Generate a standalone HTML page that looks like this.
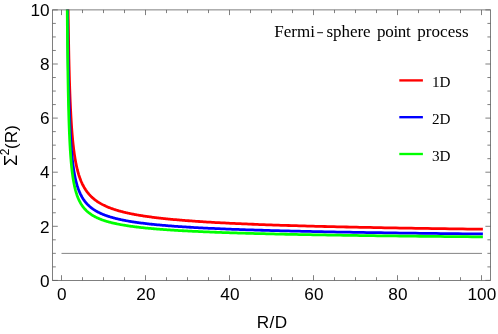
<!DOCTYPE html>
<html><head><meta charset="utf-8"><title>Fermi-sphere point process</title>
<style>html,body{margin:0;padding:0;background:#fff}svg{display:block;will-change:transform}</style>
</head><body>
<svg width="498" height="334" viewBox="0 0 498 334">
<rect width="498" height="334" fill="#fff"/>
<defs><clipPath id="c"><rect x="52.60" y="9.40" width="438.00" height="271.00"/></clipPath></defs>
<line x1="61.50" y1="253.40" x2="482.00" y2="253.40" stroke="#777" stroke-width="0.9"/>
<g clip-path="url(#c)" fill="none" stroke-width="2.77" stroke-linejoin="round" stroke-linecap="square">
<path d="M67.30,-91.56 L67.36,-79.78 L67.43,-68.78 L67.50,-58.49 L67.57,-48.83 L67.64,-39.75 L67.71,-31.20 L67.78,-23.13 L67.85,-15.51 L67.92,-8.30 L68.00,-1.47 L68.07,5.02 L68.15,11.18 L68.22,17.05 L68.30,22.64 L68.38,27.97 L68.46,33.06 L68.54,37.92 L68.62,42.58 L68.70,47.04 L68.78,51.31 L68.86,55.41 L68.95,59.34 L69.03,63.13 L69.12,66.77 L69.21,70.27 L69.29,73.64 L69.38,76.89 L69.47,80.03 L69.57,83.05 L69.66,85.97 L69.75,88.80 L69.85,91.53 L69.94,94.17 L70.04,96.72 L70.14,99.20 L70.23,101.60 L70.34,103.92 L70.44,106.18 L70.54,108.36 L70.64,110.49 L70.75,112.55 L70.85,114.55 L70.96,116.50 L71.07,118.39 L71.18,120.23 L71.29,122.03 L71.40,123.77 L71.51,125.47 L71.63,127.12 L71.75,128.74 L71.86,130.31 L71.98,131.84 L72.10,133.33 L72.22,134.79 L72.35,136.22 L72.47,137.61 L72.60,138.96 L72.72,140.29 L72.85,141.58 L72.98,142.85 L73.11,144.09 L73.25,145.30 L73.38,146.48 L73.52,147.64 L73.65,148.77 L73.79,149.88 L73.93,150.97 L74.08,152.03 L74.22,153.07 L74.37,154.09 L74.51,155.09 L74.66,156.07 L74.81,157.03 L74.97,157.98 L75.12,158.90 L75.28,159.80 L75.43,160.69 L75.59,161.56 L75.76,162.42 L75.92,163.26 L76.08,164.08 L76.25,164.89 L76.42,165.69 L76.59,166.47 L76.76,167.24 L76.94,167.99 L77.12,168.73 L77.29,169.46 L77.48,170.17 L77.66,170.88 L77.84,171.57 L78.03,172.25 L78.22,172.92 L78.41,173.57 L78.61,174.22 L78.80,174.86 L79.00,175.48 L79.20,176.10 L79.40,176.71 L79.61,177.31 L79.82,177.89 L80.03,178.47 L80.24,179.04 L80.45,179.60 L80.67,180.16 L80.89,180.70 L81.11,181.24 L81.34,181.77 L81.56,182.29 L81.79,182.80 L82.03,183.31 L82.26,183.81 L82.50,184.30 L82.74,184.79 L82.98,185.27 L83.23,185.74 L83.48,186.20 L83.73,186.66 L83.98,187.12 L84.24,187.56 L84.50,188.00 L84.77,188.44 L85.03,188.87 L85.30,189.29 L85.57,189.71 L85.85,190.12 L86.13,190.53 L86.41,190.93 L86.70,191.33 L86.98,191.72 L87.28,192.11 L87.57,192.49 L87.87,192.86 L88.17,193.24 L88.48,193.61 L88.79,193.97 L89.10,194.33 L89.42,194.68 L89.74,195.03 L90.06,195.38 L90.39,195.72 L90.72,196.06 L91.05,196.40 L91.39,196.73 L91.73,197.05 L92.08,197.38 L92.43,197.70 L92.78,198.01 L93.14,198.32 L93.51,198.63 L93.87,198.94 L94.24,199.24 L94.62,199.54 L95.00,199.83 L95.38,200.13 L95.77,200.41 L96.16,200.70 L96.56,200.98 L96.96,201.26 L97.37,201.54 L97.78,201.81 L98.19,202.08 L98.61,202.35 L99.04,202.62 L99.47,202.88 L99.90,203.14 L100.34,203.40 L100.79,203.65 L101.24,203.90 L101.69,204.15 L102.15,204.40 L102.62,204.64 L103.09,204.88 L103.57,205.12 L104.05,205.36 L104.54,205.60 L105.03,205.83 L105.53,206.06 L106.03,206.29 L106.54,206.51 L107.06,206.74 L107.58,206.96 L108.11,207.18 L108.64,207.40 L109.18,207.61 L109.73,207.83 L110.28,208.04 L110.84,208.25 L111.41,208.45 L111.98,208.66 L112.56,208.86 L113.14,209.07 L113.73,209.27 L114.33,209.46 L114.94,209.66 L115.55,209.85 L116.17,210.05 L116.79,210.24 L117.43,210.43 L118.07,210.62 L118.72,210.80 L119.37,210.99 L120.03,211.17 L120.71,211.35 L121.38,211.53 L122.07,211.71 L122.76,211.89 L123.47,212.06 L124.18,212.24 L124.89,212.41 L125.62,212.58 L126.35,212.75 L127.10,212.92 L127.85,213.09 L128.61,213.25 L129.38,213.42 L130.15,213.58 L130.94,213.74 L131.74,213.90 L132.54,214.06 L133.36,214.22 L134.18,214.37 L135.01,214.53 L135.85,214.68 L136.71,214.83 L137.57,214.99 L138.44,215.14 L139.32,215.29 L140.21,215.43 L141.11,215.58 L142.02,215.73 L142.95,215.87 L143.88,216.01 L144.82,216.16 L145.78,216.30 L146.74,216.44 L147.72,216.58 L148.71,216.72 L149.71,216.85 L150.72,216.99 L151.74,217.12 L152.77,217.26 L153.82,217.39 L154.88,217.52 L155.95,217.65 L157.03,217.78 L158.12,217.91 L159.23,218.04 L160.35,218.17 L161.48,218.29 L162.63,218.42 L163.79,218.55 L164.96,218.67 L166.14,218.79 L167.34,218.91 L168.55,219.03 L169.78,219.16 L171.02,219.27 L172.28,219.39 L173.55,219.51 L174.83,219.63 L176.13,219.74 L177.44,219.86 L178.77,219.97 L180.11,220.09 L181.47,220.20 L182.85,220.31 L184.24,220.42 L185.64,220.54 L187.06,220.65 L188.50,220.75 L189.96,220.86 L191.43,220.97 L192.92,221.08 L194.42,221.18 L195.95,221.29 L197.49,221.40 L199.04,221.50 L200.62,221.60 L202.21,221.71 L203.83,221.81 L205.46,221.91 L207.10,222.01 L208.77,222.11 L210.46,222.21 L212.17,222.31 L213.89,222.41 L215.64,222.51 L217.40,222.60 L219.19,222.70 L221.00,222.80 L222.82,222.89 L224.67,222.99 L226.54,223.08 L228.43,223.17 L230.34,223.27 L232.28,223.36 L234.24,223.45 L236.21,223.54 L238.22,223.63 L240.24,223.72 L242.29,223.81 L244.36,223.90 L246.45,223.99 L248.57,224.08 L250.72,224.17 L252.88,224.25 L255.08,224.34 L257.29,224.43 L259.54,224.51 L261.81,224.60 L264.10,224.68 L266.42,224.77 L268.77,224.85 L271.14,224.93 L273.54,225.02 L275.97,225.10 L278.43,225.18 L280.92,225.26 L283.43,225.34 L285.97,225.42 L288.54,225.50 L291.14,225.58 L293.78,225.66 L296.44,225.74 L299.13,225.81 L301.85,225.89 L304.60,225.97 L307.39,226.05 L310.21,226.12 L313.06,226.20 L315.94,226.27 L318.85,226.35 L321.80,226.42 L324.78,226.50 L327.80,226.57 L330.85,226.64 L333.93,226.72 L337.06,226.79 L340.21,226.86 L343.41,226.93 L346.63,227.00 L349.90,227.08 L353.21,227.15 L356.55,227.22 L359.93,227.29 L363.35,227.36 L366.80,227.42 L370.30,227.49 L373.84,227.56 L377.42,227.63 L381.04,227.70 L384.70,227.76 L388.40,227.83 L392.14,227.90 L395.93,227.96 L399.76,228.03 L403.64,228.10 L407.56,228.16 L411.52,228.23 L415.53,228.29 L419.59,228.35 L423.69,228.42 L427.84,228.48 L432.04,228.55 L436.28,228.61 L440.58,228.67 L444.92,228.73 L449.31,228.80 L453.75,228.86 L458.25,228.92 L462.79,228.98 L467.39,229.04 L472.04,229.10 L476.74,229.16 L481.50,229.22" stroke="#f00"/>
<path d="M66.98,-83.22 L67.04,-69.36 L67.10,-56.60 L67.17,-44.81 L67.23,-33.88 L67.30,-23.72 L67.36,-14.26 L67.43,-5.42 L67.50,2.85 L67.57,10.61 L67.64,17.90 L67.71,24.77 L67.78,31.25 L67.85,37.37 L67.92,43.16 L68.00,48.65 L68.07,53.86 L68.15,58.82 L68.22,63.53 L68.30,68.02 L68.38,72.30 L68.46,76.39 L68.54,80.30 L68.62,84.03 L68.70,87.62 L68.78,91.05 L68.86,94.34 L68.95,97.50 L69.03,100.54 L69.12,103.46 L69.21,106.28 L69.29,108.99 L69.38,111.60 L69.47,114.12 L69.57,116.55 L69.66,118.89 L69.75,121.16 L69.85,123.36 L69.94,125.48 L70.04,127.53 L70.14,129.52 L70.23,131.44 L70.34,133.31 L70.44,135.12 L70.54,136.88 L70.64,138.59 L70.75,140.24 L70.85,141.85 L70.96,143.42 L71.07,144.94 L71.18,146.42 L71.29,147.86 L71.40,149.26 L71.51,150.62 L71.63,151.95 L71.75,153.25 L71.86,154.51 L71.98,155.74 L72.10,156.94 L72.22,158.11 L72.35,159.26 L72.47,160.37 L72.60,161.46 L72.72,162.53 L72.85,163.57 L72.98,164.58 L73.11,165.58 L73.25,166.55 L73.38,167.50 L73.52,168.43 L73.65,169.34 L73.79,170.23 L73.93,171.11 L74.08,171.96 L74.22,172.80 L74.37,173.62 L74.51,174.42 L74.66,175.21 L74.81,175.98 L74.97,176.73 L75.12,177.48 L75.28,178.20 L75.43,178.92 L75.59,179.62 L75.76,180.31 L75.92,180.98 L76.08,181.64 L76.25,182.29 L76.42,182.93 L76.59,183.56 L76.76,184.17 L76.94,184.78 L77.12,185.37 L77.29,185.96 L77.48,186.53 L77.66,187.10 L77.84,187.65 L78.03,188.20 L78.22,188.74 L78.41,189.27 L78.61,189.79 L78.80,190.30 L79.00,190.80 L79.20,191.30 L79.40,191.78 L79.61,192.26 L79.82,192.74 L80.03,193.20 L80.24,193.66 L80.45,194.11 L80.67,194.55 L80.89,194.99 L81.11,195.42 L81.34,195.85 L81.56,196.27 L81.79,196.68 L82.03,197.09 L82.26,197.49 L82.50,197.88 L82.74,198.27 L82.98,198.66 L83.23,199.04 L83.48,199.41 L83.73,199.78 L83.98,200.14 L84.24,200.50 L84.50,200.86 L84.77,201.21 L85.03,201.55 L85.30,201.89 L85.57,202.23 L85.85,202.56 L86.13,202.88 L86.41,203.21 L86.70,203.53 L86.98,203.84 L87.28,204.15 L87.57,204.46 L87.87,204.76 L88.17,205.06 L88.48,205.36 L88.79,205.65 L89.10,205.94 L89.42,206.22 L89.74,206.50 L90.06,206.78 L90.39,207.06 L90.72,207.33 L91.05,207.60 L91.39,207.86 L91.73,208.13 L92.08,208.39 L92.43,208.64 L92.78,208.90 L93.14,209.15 L93.51,209.39 L93.87,209.64 L94.24,209.88 L94.62,210.12 L95.00,210.36 L95.38,210.59 L95.77,210.83 L96.16,211.06 L96.56,211.28 L96.96,211.51 L97.37,211.73 L97.78,211.95 L98.19,212.17 L98.61,212.38 L99.04,212.60 L99.47,212.81 L99.90,213.01 L100.34,213.22 L100.79,213.43 L101.24,213.63 L101.69,213.83 L102.15,214.03 L102.62,214.22 L103.09,214.42 L103.57,214.61 L104.05,214.80 L104.54,214.99 L105.03,215.18 L105.53,215.36 L106.03,215.54 L106.54,215.73 L107.06,215.91 L107.58,216.08 L108.11,216.26 L108.64,216.43 L109.18,216.61 L109.73,216.78 L110.28,216.95 L110.84,217.12 L111.41,217.28 L111.98,217.45 L112.56,217.61 L113.14,217.78 L113.73,217.94 L114.33,218.10 L114.94,218.25 L115.55,218.41 L116.17,218.56 L116.79,218.72 L117.43,218.87 L118.07,219.02 L118.72,219.17 L119.37,219.32 L120.03,219.47 L120.71,219.61 L121.38,219.76 L122.07,219.90 L122.76,220.04 L123.47,220.18 L124.18,220.32 L124.89,220.46 L125.62,220.60 L126.35,220.74 L127.10,220.87 L127.85,221.01 L128.61,221.14 L129.38,221.27 L130.15,221.40 L130.94,221.53 L131.74,221.66 L132.54,221.79 L133.36,221.91 L134.18,222.04 L135.01,222.16 L135.85,222.29 L136.71,222.41 L137.57,222.53 L138.44,222.65 L139.32,222.77 L140.21,222.89 L141.11,223.01 L142.02,223.13 L142.95,223.24 L143.88,223.36 L144.82,223.47 L145.78,223.59 L146.74,223.70 L147.72,223.81 L148.71,223.92 L149.71,224.03 L150.72,224.14 L151.74,224.25 L152.77,224.36 L153.82,224.46 L154.88,224.57 L155.95,224.67 L157.03,224.78 L158.12,224.88 L159.23,224.99 L160.35,225.09 L161.48,225.19 L162.63,225.29 L163.79,225.39 L164.96,225.49 L166.14,225.59 L167.34,225.69 L168.55,225.78 L169.78,225.88 L171.02,225.98 L172.28,226.07 L173.55,226.17 L174.83,226.26 L176.13,226.35 L177.44,226.45 L178.77,226.54 L180.11,226.63 L181.47,226.72 L182.85,226.81 L184.24,226.90 L185.64,226.99 L187.06,227.08 L188.50,227.17 L189.96,227.25 L191.43,227.34 L192.92,227.43 L194.42,227.51 L195.95,227.60 L197.49,227.68 L199.04,227.76 L200.62,227.85 L202.21,227.93 L203.83,228.01 L205.46,228.09 L207.10,228.18 L208.77,228.26 L210.46,228.34 L212.17,228.42 L213.89,228.49 L215.64,228.57 L217.40,228.65 L219.19,228.73 L221.00,228.81 L222.82,228.88 L224.67,228.96 L226.54,229.03 L228.43,229.11 L230.34,229.18 L232.28,229.26 L234.24,229.33 L236.21,229.41 L238.22,229.48 L240.24,229.55 L242.29,229.62 L244.36,229.70 L246.45,229.77 L248.57,229.84 L250.72,229.91 L252.88,229.98 L255.08,230.05 L257.29,230.12 L259.54,230.18 L261.81,230.25 L264.10,230.32 L266.42,230.39 L268.77,230.46 L271.14,230.52 L273.54,230.59 L275.97,230.65 L278.43,230.72 L280.92,230.78 L283.43,230.85 L285.97,230.91 L288.54,230.98 L291.14,231.04 L293.78,231.11 L296.44,231.17 L299.13,231.23 L301.85,231.29 L304.60,231.35 L307.39,231.42 L310.21,231.48 L313.06,231.54 L315.94,231.60 L318.85,231.66 L321.80,231.72 L324.78,231.78 L327.80,231.84 L330.85,231.90 L333.93,231.96 L337.06,232.01 L340.21,232.07 L343.41,232.13 L346.63,232.19 L349.90,232.24 L353.21,232.30 L356.55,232.36 L359.93,232.41 L363.35,232.47 L366.80,232.52 L370.30,232.58 L373.84,232.63 L377.42,232.69 L381.04,232.74 L384.70,232.80 L388.40,232.85 L392.14,232.90 L395.93,232.96 L399.76,233.01 L403.64,233.06 L407.56,233.12 L411.52,233.17 L415.53,233.22 L419.59,233.27 L423.69,233.32 L427.84,233.37 L432.04,233.42 L436.28,233.47 L440.58,233.53 L444.92,233.58 L449.31,233.62 L453.75,233.67 L458.25,233.72 L462.79,233.77 L467.39,233.82 L472.04,233.87 L476.74,233.92 L481.50,233.97" stroke="#00f"/>
<path d="M66.73,-92.70 L66.79,-75.64 L66.85,-60.18 L66.91,-46.11 L66.98,-33.25 L67.04,-21.44 L67.10,-10.58 L67.17,-0.53 L67.23,8.77 L67.30,17.42 L67.36,25.48 L67.43,33.00 L67.50,40.04 L67.57,46.65 L67.64,52.86 L67.71,58.71 L67.78,64.23 L67.85,69.44 L67.92,74.37 L68.00,79.05 L68.07,83.48 L68.15,87.70 L68.22,91.71 L68.30,95.54 L68.38,99.18 L68.46,102.66 L68.54,105.99 L68.62,109.18 L68.70,112.22 L68.78,115.15 L68.86,117.95 L68.95,120.64 L69.03,123.23 L69.12,125.72 L69.21,128.12 L69.29,130.42 L69.38,132.65 L69.47,134.79 L69.57,136.86 L69.66,138.86 L69.75,140.79 L69.85,142.66 L69.94,144.46 L70.04,146.21 L70.14,147.91 L70.23,149.55 L70.34,151.14 L70.44,152.68 L70.54,154.17 L70.64,155.63 L70.75,157.04 L70.85,158.41 L70.96,159.74 L71.07,161.03 L71.18,162.29 L71.29,163.52 L71.40,164.71 L71.51,165.87 L71.63,167.01 L71.75,168.11 L71.86,169.18 L71.98,170.23 L72.10,171.26 L72.22,172.25 L72.35,173.23 L72.47,174.18 L72.60,175.11 L72.72,176.01 L72.85,176.90 L72.98,177.77 L73.11,178.61 L73.25,179.44 L73.38,180.25 L73.52,181.04 L73.65,181.82 L73.79,182.58 L73.93,183.32 L74.08,184.05 L74.22,184.76 L74.37,185.46 L74.51,186.14 L74.66,186.81 L74.81,187.47 L74.97,188.11 L75.12,188.74 L75.28,189.36 L75.43,189.97 L75.59,190.57 L75.76,191.15 L75.92,191.73 L76.08,192.29 L76.25,192.84 L76.42,193.39 L76.59,193.92 L76.76,194.45 L76.94,194.96 L77.12,195.47 L77.29,195.97 L77.48,196.45 L77.66,196.94 L77.84,197.41 L78.03,197.87 L78.22,198.33 L78.41,198.78 L78.61,199.22 L78.80,199.66 L79.00,200.09 L79.20,200.51 L79.40,200.92 L79.61,201.33 L79.82,201.74 L80.03,202.13 L80.24,202.52 L80.45,202.91 L80.67,203.28 L80.89,203.66 L81.11,204.02 L81.34,204.39 L81.56,204.74 L81.79,205.09 L82.03,205.44 L82.26,205.78 L82.50,206.12 L82.74,206.45 L82.98,206.78 L83.23,207.10 L83.48,207.42 L83.73,207.73 L83.98,208.04 L84.24,208.35 L84.50,208.65 L84.77,208.95 L85.03,209.24 L85.30,209.53 L85.57,209.82 L85.85,210.10 L86.13,210.38 L86.41,210.65 L86.70,210.92 L86.98,211.19 L87.28,211.46 L87.57,211.72 L87.87,211.98 L88.17,212.23 L88.48,212.48 L88.79,212.73 L89.10,212.98 L89.42,213.22 L89.74,213.46 L90.06,213.70 L90.39,213.93 L90.72,214.16 L91.05,214.39 L91.39,214.62 L91.73,214.84 L92.08,215.06 L92.43,215.28 L92.78,215.50 L93.14,215.71 L93.51,215.92 L93.87,216.13 L94.24,216.34 L94.62,216.54 L95.00,216.74 L95.38,216.94 L95.77,217.14 L96.16,217.34 L96.56,217.53 L96.96,217.72 L97.37,217.91 L97.78,218.10 L98.19,218.28 L98.61,218.47 L99.04,218.65 L99.47,218.83 L99.90,219.00 L100.34,219.18 L100.79,219.35 L101.24,219.53 L101.69,219.70 L102.15,219.87 L102.62,220.03 L103.09,220.20 L103.57,220.36 L104.05,220.52 L104.54,220.69 L105.03,220.84 L105.53,221.00 L106.03,221.16 L106.54,221.31 L107.06,221.47 L107.58,221.62 L108.11,221.77 L108.64,221.92 L109.18,222.06 L109.73,222.21 L110.28,222.35 L110.84,222.50 L111.41,222.64 L111.98,222.78 L112.56,222.92 L113.14,223.06 L113.73,223.19 L114.33,223.33 L114.94,223.46 L115.55,223.60 L116.17,223.73 L116.79,223.86 L117.43,223.99 L118.07,224.12 L118.72,224.25 L119.37,224.37 L120.03,224.50 L120.71,224.62 L121.38,224.75 L122.07,224.87 L122.76,224.99 L123.47,225.11 L124.18,225.23 L124.89,225.35 L125.62,225.46 L126.35,225.58 L127.10,225.69 L127.85,225.81 L128.61,225.92 L129.38,226.03 L130.15,226.15 L130.94,226.26 L131.74,226.37 L132.54,226.47 L133.36,226.58 L134.18,226.69 L135.01,226.79 L135.85,226.90 L136.71,227.00 L137.57,227.11 L138.44,227.21 L139.32,227.31 L140.21,227.41 L141.11,227.51 L142.02,227.61 L142.95,227.71 L143.88,227.81 L144.82,227.91 L145.78,228.01 L146.74,228.10 L147.72,228.20 L148.71,228.29 L149.71,228.38 L150.72,228.48 L151.74,228.57 L152.77,228.66 L153.82,228.75 L154.88,228.84 L155.95,228.93 L157.03,229.02 L158.12,229.11 L159.23,229.20 L160.35,229.28 L161.48,229.37 L162.63,229.46 L163.79,229.54 L164.96,229.63 L166.14,229.71 L167.34,229.79 L168.55,229.88 L169.78,229.96 L171.02,230.04 L172.28,230.12 L173.55,230.20 L174.83,230.28 L176.13,230.36 L177.44,230.44 L178.77,230.52 L180.11,230.60 L181.47,230.67 L182.85,230.75 L184.24,230.83 L185.64,230.90 L187.06,230.98 L188.50,231.05 L189.96,231.13 L191.43,231.20 L192.92,231.28 L194.42,231.35 L195.95,231.42 L197.49,231.49 L199.04,231.56 L200.62,231.63 L202.21,231.70 L203.83,231.77 L205.46,231.84 L207.10,231.91 L208.77,231.98 L210.46,232.05 L212.17,232.12 L213.89,232.19 L215.64,232.25 L217.40,232.32 L219.19,232.38 L221.00,232.45 L222.82,232.52 L224.67,232.58 L226.54,232.64 L228.43,232.71 L230.34,232.77 L232.28,232.84 L234.24,232.90 L236.21,232.96 L238.22,233.02 L240.24,233.09 L242.29,233.15 L244.36,233.21 L246.45,233.27 L248.57,233.33 L250.72,233.39 L252.88,233.45 L255.08,233.51 L257.29,233.57 L259.54,233.62 L261.81,233.68 L264.10,233.74 L266.42,233.80 L268.77,233.85 L271.14,233.91 L273.54,233.97 L275.97,234.02 L278.43,234.08 L280.92,234.14 L283.43,234.19 L285.97,234.25 L288.54,234.30 L291.14,234.35 L293.78,234.41 L296.44,234.46 L299.13,234.52 L301.85,234.57 L304.60,234.62 L307.39,234.67 L310.21,234.73 L313.06,234.78 L315.94,234.83 L318.85,234.88 L321.80,234.93 L324.78,234.98 L327.80,235.03 L330.85,235.08 L333.93,235.13 L337.06,235.18 L340.21,235.23 L343.41,235.28 L346.63,235.33 L349.90,235.38 L353.21,235.43 L356.55,235.47 L359.93,235.52 L363.35,235.57 L366.80,235.62 L370.30,235.66 L373.84,235.71 L377.42,235.76 L381.04,235.80 L384.70,235.85 L388.40,235.89 L392.14,235.94 L395.93,235.99 L399.76,236.03 L403.64,236.08 L407.56,236.12 L411.52,236.16 L415.53,236.21 L419.59,236.25 L423.69,236.30 L427.84,236.34 L432.04,236.38 L436.28,236.43 L440.58,236.47 L444.92,236.51 L449.31,236.55 L453.75,236.60 L458.25,236.64 L462.79,236.68 L467.39,236.72 L472.04,236.76 L476.74,236.80 L481.50,236.84" stroke="#0f0"/>
</g>
<g stroke="#5c5c5c" stroke-width="0.78" fill="none">
<rect x="52.60" y="9.90" width="438.00" height="270.50"/>
<path d="M61.50,280.40v-5.20M61.50,9.90v5.20M82.50,280.40v-3.20M82.50,9.90v3.20M103.50,280.40v-3.20M103.50,9.90v3.20M124.50,280.40v-3.20M124.50,9.90v3.20M145.50,280.40v-5.20M145.50,9.90v5.20M166.50,280.40v-3.20M166.50,9.90v3.20M187.50,280.40v-3.20M187.50,9.90v3.20M208.50,280.40v-3.20M208.50,9.90v3.20M229.50,280.40v-5.20M229.50,9.90v5.20M250.50,280.40v-3.20M250.50,9.90v3.20M271.50,280.40v-3.20M271.50,9.90v3.20M292.50,280.40v-3.20M292.50,9.90v3.20M313.50,280.40v-5.20M313.50,9.90v5.20M334.50,280.40v-3.20M334.50,9.90v3.20M355.50,280.40v-3.20M355.50,9.90v3.20M376.50,280.40v-3.20M376.50,9.90v3.20M397.50,280.40v-5.20M397.50,9.90v5.20M418.50,280.40v-3.20M418.50,9.90v3.20M439.50,280.40v-3.20M439.50,9.90v3.20M460.50,280.40v-3.20M460.50,9.90v3.20M481.50,280.40v-5.20M481.50,9.90v5.20M52.60,280.40h5.20M490.60,280.40h-5.20M52.60,266.88h3.20M490.60,266.88h-3.20M52.60,253.35h3.20M490.60,253.35h-3.20M52.60,239.82h3.20M490.60,239.82h-3.20M52.60,226.30h5.20M490.60,226.30h-5.20M52.60,212.77h3.20M490.60,212.77h-3.20M52.60,199.25h3.20M490.60,199.25h-3.20M52.60,185.72h3.20M490.60,185.72h-3.20M52.60,172.20h5.20M490.60,172.20h-5.20M52.60,158.67h3.20M490.60,158.67h-3.20M52.60,145.15h3.20M490.60,145.15h-3.20M52.60,131.62h3.20M490.60,131.62h-3.20M52.60,118.10h5.20M490.60,118.10h-5.20M52.60,104.57h3.20M490.60,104.57h-3.20M52.60,91.05h3.20M490.60,91.05h-3.20M52.60,77.52h3.20M490.60,77.52h-3.20M52.60,64.00h5.20M490.60,64.00h-5.20M52.60,50.47h3.20M490.60,50.47h-3.20M52.60,36.95h3.20M490.60,36.95h-3.20M52.60,23.42h3.20M490.60,23.42h-3.20M52.60,9.90h5.20M490.60,9.90h-5.20"/>
</g>
<g font-family="Liberation Sans, sans-serif" font-size="17.2" fill="#000">
<text x="61.90" y="299.5" text-anchor="middle">0</text>
<text x="145.90" y="299.5" text-anchor="middle">20</text>
<text x="229.90" y="299.5" text-anchor="middle">40</text>
<text x="313.90" y="299.5" text-anchor="middle">60</text>
<text x="397.90" y="299.5" text-anchor="middle">80</text>
<text x="481.90" y="299.5" text-anchor="middle">100</text>
<text x="49.5" y="286.60" text-anchor="end">0</text>
<text x="49.5" y="232.50" text-anchor="end">2</text>
<text x="49.5" y="178.40" text-anchor="end">4</text>
<text x="49.5" y="124.30" text-anchor="end">6</text>
<text x="49.5" y="70.20" text-anchor="end">8</text>
<text x="49.5" y="16.10" text-anchor="end">10</text>
<text x="272.2" y="328.1" text-anchor="middle" font-size="17.2" letter-spacing="0.5">R/D</text>
<text transform="translate(17.15,166.0) rotate(-90)" font-size="17.2"><tspan font-size="18.2">Σ</tspan><tspan font-size="11.9" dy="-8.6" dx="-0.6">2</tspan><tspan dy="8.6" dx="-0.3">(R)</tspan></text>
</g>
<g font-family="Liberation Serif, serif" fill="#000">
<text y="36.60" font-size="17"><tspan x="274.3" letter-spacing="0">Fermi</tspan><tspan x="326.4" letter-spacing="-0.03">sphere</tspan><tspan x="377.0" letter-spacing="-0.3">point</tspan><tspan x="417.2" letter-spacing="0.07">process</tspan></text>
<line x1="317.2" x2="323" y1="32.7" y2="32.7" stroke="#111" stroke-width="1"/>
<line x1="399.3" y1="80.40" x2="422.9" y2="80.40" stroke="#f00" stroke-width="2.35"/>
<text x="432" y="87.40" font-size="15.2">1D</text>
<line x1="399.3" y1="117.20" x2="422.9" y2="117.20" stroke="#00f" stroke-width="2.35"/>
<text x="432" y="124.20" font-size="15.2">2D</text>
<line x1="399.3" y1="154.00" x2="422.9" y2="154.00" stroke="#0f0" stroke-width="2.35"/>
<text x="432" y="161.00" font-size="15.2">3D</text>
</g>
</svg>
</body></html>
